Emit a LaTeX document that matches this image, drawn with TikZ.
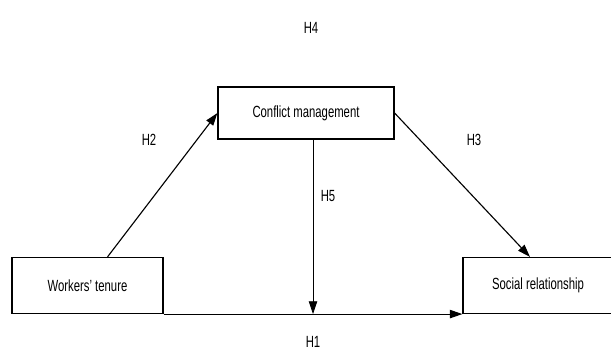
\documentclass[tikz,border=0pt]{standalone}
\usepackage{fontspec}
\setmainfont[FakeStretch=0.7]{Liberation Sans}
\usetikzlibrary{arrows.meta, positioning, calc}

\tikzset{
  varbox/.style={draw, thick, fill=white, minimum height=1.4cm, font=\fontsize{11.5}{13}\selectfont},
  hyp/.style={font=\fontsize{11.5}{13}\selectfont},
  path/.style={-{Triangle[length=9pt, width=6pt]}, line width=0.8pt}
}

\begin{document}
\begin{tikzpicture}[x=0.025cm, y=-0.025cm]
        \useasboundingbox (0,0) rectangle (611,352);

        % Variable boxes
        \node[varbox, minimum width=3.775cm] (wt) at (87.5,285.5) {Workers' tenure};
        \node[varbox, minimum width=4.4cm, minimum height=1.3cm] (cm) at (306,113) {Conflict management};
        \node[varbox, minimum width=3.75cm] (sr) at (538,285.5) {Social relationship};

        % Direct path H1
        \draw[path] (wt.south east) -- (sr.south west);

        % Mediation paths H2 and H3
        \draw[path] ($(wt.north)+(20,0)$) -- (cm.west);
        \draw[path] (cm.east) -- ($(sr.north)+(-8,0)$);

        % Moderation path H5
        \coordinate (h5end) at (313,314);
        \draw[path, line width=0.5pt] (cm.south -| h5end) -- (h5end);

        % Hypothesis labels
        \node[hyp] (h4) at (311,28) {H4};
        \node[hyp] (h2) at (149,140) {H2};
        \node[hyp] (h3) at (474,140) {H3};
        \node[hyp] (h5) at (328,196) {H5};
        \node[hyp] (h1) at (313,342) {H1};
    \end{tikzpicture}
\end{document}
